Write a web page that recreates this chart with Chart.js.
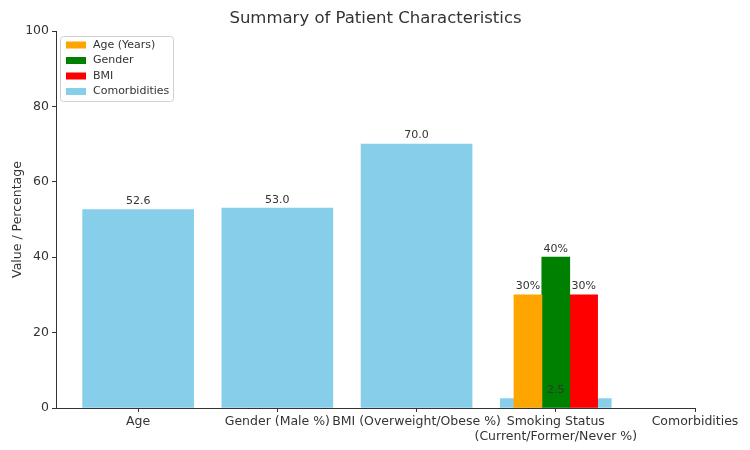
<!DOCTYPE html>
<html>
<head>
<meta charset="utf-8">
<script src="https://cdn.jsdelivr.net/npm/chart.js@4.4.1/dist/chart.umd.min.js"></script>
<style>
html, body { margin: 0; padding: 0; background: #fff; }
#wrap { width: 750px; height: 450px; }
</style>
</head>
<body>
<div id="wrap"><canvas id="barChart"></canvas></div>
<script>
// chart values
var chartTitle = 'Summary of Patient Characteristics';
var categories = ['Age', 'Gender (Male %)', 'BMI (Overweight/Obese %)', ['Smoking Status', '(Current/Former/Never %)'], 'Comorbidities'];
var mainPositions = [0, 1, 2, 3];
var mainValues = [52.6, 53.0, 70.0, 2.5];
var smokingPositions = [2.8, 3.0, 3.2];
var smokingValues = [30, 40, 30];
var seriesLabels = ['Age (Years)', 'Gender', 'BMI', 'Comorbidities'];
var yTicks = [0, 20, 40, 60, 80, 100];

var colors = ['#FFA500', '#008000', '#FF0000', '#87CEEB'];
var FONT = "'DejaVu Sans', sans-serif";

var datasets = [];
for (var i = 0; i < smokingValues.length; i++) {
    datasets.push({
        label: seriesLabels[i],
        data: [{ x: smokingPositions[i], y: smokingValues[i] }],
        backgroundColor: colors[i],
        barThickness: 28,
        grouped: false,
        pct: true
    });
}
datasets.push({
    label: seriesLabels[3],
    data: mainPositions.map(function(p, k) { return { x: p, y: mainValues[k] }; }),
    backgroundColor: colors[3],
    barThickness: 111,
    grouped: false,
    pct: false
});

// value labels above the bars
var barLabels = {
    id: 'barLabels',
    afterDatasetsDraw: function(chart) {
        var ctx = chart.ctx;
        ctx.save();
        ctx.font = '11px ' + FONT;
        ctx.fillStyle = '#333';
        ctx.textAlign = 'center';
        ctx.textBaseline = 'bottom';
        chart.data.datasets.forEach(function(ds, i) {
            var meta = chart.getDatasetMeta(i);
            meta.data.forEach(function(bar, j) {
                var v = ds.data[j].y;
                var txt = ds.pct ? v + '%' : v.toFixed(1);
                ctx.fillText(txt, bar.x, bar.y - 3);
            });
        });
        ctx.restore();
    }
};

// title centred over the plot area, like matplotlib does
var axesTitle = {
    id: 'axesTitle',
    afterDraw: function(chart) {
        var ctx = chart.ctx;
        var a = chart.chartArea;
        ctx.save();
        ctx.font = '16.5px ' + FONT;
        ctx.fillStyle = '#333';
        ctx.textAlign = 'center';
        ctx.textBaseline = 'middle';
        ctx.fillText(chartTitle, (a.left + a.right) / 2, 18.5);
        ctx.restore();
    }
};

// matplotlib style legend inside the plot, top left
var boxLegend = {
    id: 'boxLegend',
    afterDraw: function(chart) {
        var ctx = chart.ctx;
        var a = chart.chartArea;
        var x = a.left + 4, y = a.top + 5, w = 113, h = 65;
        ctx.save();
        ctx.fillStyle = 'rgba(255,255,255,0.8)';
        ctx.strokeStyle = '#d0d0d0';
        ctx.lineWidth = 1;
        ctx.beginPath();
        ctx.roundRect(x + 0.5, y + 0.5, w, h, 3);
        ctx.fill();
        ctx.stroke();
        ctx.font = '11px ' + FONT;
        ctx.textBaseline = 'middle';
        chart.data.datasets.forEach(function(ds, i) {
            var ry = y + 9 + i * 15.5;
            ctx.fillStyle = ds.backgroundColor;
            ctx.fillRect(x + 6, ry - 3.5, 20, 7);
            ctx.fillStyle = '#333';
            ctx.fillText(ds.label, x + 33, ry);
        });
        ctx.restore();
    }
};

new Chart(document.getElementById('barChart').getContext('2d'), {
    type: 'bar',
    data: { datasets: datasets },
    plugins: [barLabels, axesTitle, boxLegend],
    options: {
        responsive: true,
        maintainAspectRatio: false,
        animation: false,
        layout: { padding: { left: 0, right: 55, top: 31, bottom: 0 } },
        plugins: {
            legend: { display: false },
            tooltip: { enabled: false },
            title: { display: false }
        },
        scales: {
            x: {
                type: 'linear',
                min: -0.59,
                max: 4,
                offset: false,
                afterFit: function(s) { s.height = 42; },
                afterBuildTicks: function(s) {
                    s.ticks = categories.map(function(c, k) { return { value: k }; });
                },
                grid: { drawOnChartArea: false, drawTicks: true, tickLength: 4, tickColor: '#333', offset: false },
                border: { display: true, color: '#333' },
                ticks: {
                    autoSkip: false,
                    maxRotation: 0,
                    padding: 2,
                    color: '#333',
                    font: { family: FONT, size: 12.5 },
                    callback: function(v) { return categories[v]; }
                }
            },
            y: {
                min: 0,
                max: 100,
                afterFit: function(s) { s.width = 56; },
                afterBuildTicks: function(s) {
                    s.ticks = yTicks.map(function(t) { return { value: t }; });
                },
                grid: { drawOnChartArea: false, drawTicks: true, tickLength: 4, tickColor: '#333' },
                border: { display: true, color: '#333' },
                ticks: {
                    padding: 3,
                    color: '#333',
                    font: { family: FONT, size: 12.5 }
                },
                title: {
                    display: true,
                    text: 'Value / Percentage',
                    color: '#333',
                    font: { family: FONT, size: 12.5 },
                    padding: { top: 10, bottom: 0 }
                }
            }
        }
    }
});
</script>
</body>
</html>
